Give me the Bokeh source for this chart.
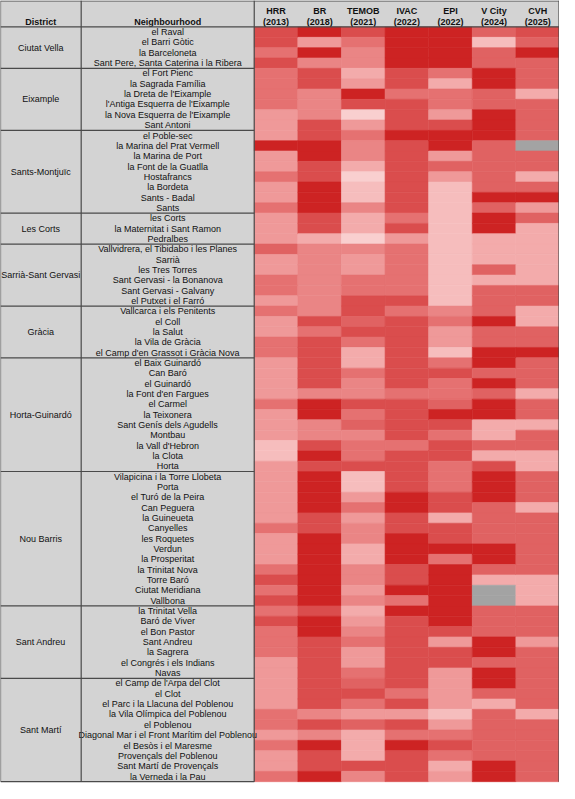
from bokeh.plotting import figure
from bokeh.models import ColumnDataSource, LinearColorMapper, Range1d
from bokeh.transform import transform
from bokeh.embed import file_html
from bokeh.resources import INLINE
from bokeh.core.properties import value

nan = float("nan")

districts = ["Ciutat Vella", "Eixample", "Sants-Montjuïc", "Les Corts", "Sarrià-Sant Gervasi",
             "Gràcia", "Horta-Guinardó", "Nou Barris", "Sant Andreu", "Sant Martí"]
district_sizes = [4, 6, 8, 3, 6, 5, 11, 13, 7, 10]

neighbourhoods = [
    "el Raval", "el Barri Gòtic", "la Barceloneta", "Sant Pere, Santa Caterina i la Ribera",
    "el Fort Pienc", "la Sagrada Família", "la Dreta de l'Eixample", "l'Antiga Esquerra de l'Eixample",
    "la Nova Esquerra de l'Eixample", "Sant Antoni",
    "el Poble-sec", "la Marina del Prat Vermell", "la Marina de Port", "la Font de la Guatlla",
    "Hostafrancs", "la Bordeta", "Sants - Badal", "Sants",
    "les Corts", "la Maternitat i Sant Ramon", "Pedralbes",
    "Vallvidrera, el Tibidabo i les Planes", "Sarrià", "les Tres Torres", "Sant Gervasi - la Bonanova",
    "Sant Gervasi - Galvany", "el Putxet i el Farró",
    "Vallcarca i els Penitents", "el Coll", "la Salut", "la Vila de Gràcia",
    "el Camp d'en Grassot i Gràcia Nova",
    "el Baix Guinardó", "Can Baró", "el Guinardó", "la Font d'en Fargues", "el Carmel", "la Teixonera",
    "Sant Genís dels Agudells", "Montbau", "la Vall d'Hebron", "la Clota", "Horta",
    "Vilapicina i la Torre Llobeta", "Porta", "el Turó de la Peira", "Can Peguera", "la Guineueta",
    "Canyelles", "les Roquetes", "Verdun", "la Prosperitat", "la Trinitat Nova", "Torre Baró",
    "Ciutat Meridiana", "Vallbona",
    "la Trinitat Vella", "Baró de Viver", "el Bon Pastor", "Sant Andreu", "la Sagrera",
    "el Congrés i els Indians", "Navas",
    "el Camp de l'Arpa del Clot", "el Clot", "el Parc i la Llacuna del Poblenou",
    "la Vila Olímpica del Poblenou", "el Poblenou", "Diagonal Mar i el Front Marítim del Poblenou",
    "el Besòs i el Maresme", "Provençals del Poblenou", "Sant Martí de Provençals", "la Verneda i la Pau",
]

indicators = ["HRR", "BR", "TEMOB", "IVAC", "EPI", "V City", "CVH"]
years = ["(2013)", "(2018)", "(2021)", "(2022)", "(2022)", "(2024)", "(2025)"]

# class levels (0.5 = lightest ... 5 = darkest), nan = no data
hrr = [4, 4, 3, 4, 3, 3, 3, 3, 2, 2,
       2, 5, 2, 2, 3, 2, 2, 3, 2, 2, 2,
       3.5, 2, 2, 3, 3, 2, 3, 2, 2, 3, 3,
       2, 2, 2, 2, 3, 2, 2, 2, 1, 1, 2,
       2, 2, 2, 2, 2, 3, 2, 2, 2, 3, 4, 3, 4,
       3, 4, 3, 3, 3, 2, 2,
       2, 2, 2, 3, 3, 2, 3, 2, 2, 3]
br = [5, 2, 5, 2.5, 4, 4, 2.5, 2.5, 2.5, 4,
      4, 5, 5, 4, 4, 5, 5, 5, 4, 4, 1.5,
      2.5, 2.5, 2.5, 2.5, 2.5, 2.5, 2.5, 4, 3, 4, 4,
      4, 4, 4, 2.5, 5, 5, 2.5, 2.5, 4, 5, 4,
      5, 5, 5, 5, 4, 4, 5, 5, 5, 5, 5, 5, 5,
      4, 5, 5, 4, 4, 4, 4,
      4, 4, 4, 2.5, 4, 2.5, 5, 4, 4, 5]
temob = [4, 3, 2.5, 2.5, 1.5, 2, 5, 4, 0.5, 2,
         3, 2.5, 2.5, 1.5, 0.5, 1, 1, 2.5, 1.5, 1.5, 0.5,
         2.5, 2, 2, 3, 3, 4, 4, 3.5, 4, 3, 1.5,
         1.5, 3, 2.5, 2.5, 4, 3, 3.5, 2.5, 3, 3, 4,
         1, 1, 2, 3, 2, 2.5, 2.5, 1.5, 1.5, 2.5, 2.5, 2, 2.5,
         1.5, 2, 2.5, 3, 2, 2, 3,
         3.5, 4, 3, 2, 3.5, 1.5, 1.5, 1.5, 4, 2.5]
ivac = [5, 5, 5, 5, 4, 4, 3, 4, 4, 4,
        5, 4, 4, 4, 4, 4, 4, 4, 3, 4, 2,
        3, 3, 3, 3, 3, 4, 3, 4, 4, 4, 4,
        4, 4, 4, 3, 4, 4, 4, 4, 3, 4, 4,
        4, 4, 5, 5, 4, 4, 5, 5, 5, 4, 4, 5, 3,
        5, 4, 4, 4, 4, 4, 4,
        4, 3, 4, 2, 4, 3, 5, 4, 4, 4]
epi = [5, 5, 5, 5, 3, 1.5, 3, 3, 2, 4,
       5, 5, 2, 3.5, 2, 1, 1, 1, 1, 1, 1,
       1, 1, 1, 1, 1, 1, 2.5, 3, 2, 2, 1,
       3, 4, 3, 3, 3.5, 5, 4, 3, 4, 4, 3,
       3, 3, 4, 4, 1.5, 4, 4, 5, 3, 5, 5, 5, 5,
       5, 5, 4, 2, 4, 4, 2,
       2, 2, 2, 1, 2, 3, 4, 3, 1.5, 2]
vcity = [3.5, 1, 3.5, 3.5, 5, 5, 3.5, 3.5, 5, 5,
         5, 3.5, 3.5, 3.5, 3.5, 3.5, 5, 3.5, 5, 5, 1.5,
         1.5, 1.5, 3.5, 1.5, 3.5, 3.5, 3.5, 5, 3.5, 3.5, 5,
         5, 3.5, 5, 3.5, 5, 5, 1.5, 1.5, 3.5, 1.5, 4,
         5, 5, 5, 3.5, 3.5, 3.5, 3.5, 5, 5, 3.5, 1.5, nan, nan,
         3.5, 3.5, 3.5, 5, 5, 3.5, 5,
         5, 3.5, 1.5, 3.5, 3.5, 3.5, 3.5, 3.5, 5, 5]
cvh = [4, 3.5, 5, 3.5, 3.5, 3.5, 1.5, 3.5, 3.5, 3.5,
       3.5, nan, 3.5, 3.5, 1.5, 3.5, 5, 2, 3.5, 1.5, 1.5,
       1.5, 1.5, 1.5, 1.5, 3.5, 3.5, 1.5, 1.5, 3.5, 3.5, 5,
       3.5, 3.5, 3.5, 1.5, 3.5, 3.5, 1.5, 3.5, 3.5, 1.5, 1.5,
       3.5, 3.5, 3.5, 1.5, 3.5, 3.5, 3.5, 3.5, 3.5, 3.5, 1.5, 1.5, 1.5,
       3.5, 3.5, 3.5, 2, 3.5, 3.5, 3.5,
       3.5, 3.5, 3.5, 1.5, 3.5, 3.5, 3.5, 3.5, 3.5, 3.5]

series = [hrr, br, temob, ivac, epi, vcity, cvh]

# ---- layout (reference pixel frame) ----
FONT = value("Liberation Sans")
X_END = 575.0
X_DIST = 83.0
X_NB = 261.0
Y_HEAD = 27.0
ROW_H = 10.55
n_rows = len(neighbourhoods)
Y_END = Y_HEAD + n_rows * ROW_H
COL_W = (X_END - X_NB) / len(indicators)
GRAY = "#d3d3d3"
LINE = "#4a4a4a"

p = figure(width=559, height=783, x_range=Range1d(0, X_END), y_range=Range1d(799, 0),
           output_backend="svg", toolbar_location=None, min_border=0,
           x_axis_type=None, y_axis_type=None)
p.grid.visible = False
p.outline_line_color = None
p.background_fill_color = "white"
p.border_fill_color = "white"

# gray backgrounds
p.quad(left=[0, 0], right=[X_END, X_NB], top=[0, Y_HEAD], bottom=[Y_HEAD, Y_END],
       fill_color=GRAY, line_color=None)

# heat cells
palette = ["#f9cfcf", "#f6bdbd", "#f3abab", "#ef9999", "#ea8585",
           "#e57171", "#e06262", "#da4d4d", "#d43838", "#cd2323"]
mapper = LinearColorMapper(palette=palette, low=0.25, high=5.25, nan_color="#a3a3a3")
xs, ys, vs = [], [], []
for j, s in enumerate(series):
    for i, v in enumerate(s):
        xs.append(X_NB + (j + 0.5) * COL_W)
        ys.append(Y_HEAD + (i + 0.5) * ROW_H)
        vs.append(v)
src = ColumnDataSource(dict(x=xs, y=ys, v=vs))
p.rect(x="x", y="y", width=COL_W, height=ROW_H, source=src,
       fill_color=transform("v", mapper), line_color=transform("v", mapper), line_width=0.6)

# neighbourhood labels
p.text(x=[(X_DIST + X_NB) / 2] * n_rows,
       y=[Y_HEAD + (i + 0.5) * ROW_H for i in range(n_rows)],
       text=neighbourhoods, text_align="center", text_baseline="middle",
       text_font=FONT, text_font_size="9px", text_color="#111111")

# district labels and separators
starts = []
acc = 0
for n in district_sizes:
    starts.append(acc)
    acc += n
p.text(x=[X_DIST / 2] * len(districts),
       y=[Y_HEAD + (s + n / 2) * ROW_H for s, n in zip(starts, district_sizes)],
       text=districts, text_align="center", text_baseline="middle",
       text_font=FONT, text_font_size="9px", text_color="#111111")
sep_y = [Y_HEAD + (s + n) * ROW_H for s, n in zip(starts, district_sizes)][:-1]
p.segment(x0=[0] * len(sep_y), x1=[X_NB] * len(sep_y), y0=sep_y, y1=sep_y,
          line_color=LINE, line_width=1.2)

# header
p.text(x=[X_DIST / 2, (X_DIST + X_NB) / 2], y=[22, 22], text=["District", "Neighbourhood"],
       text_align="center", text_baseline="middle", text_font=FONT,
       text_font_size="9px", text_font_style="bold", text_color="#111111")
hx = [X_NB + (j + 0.5) * COL_W for j in range(len(indicators))]
p.text(x=hx, y=[11] * len(hx), text=indicators, text_align="center", text_baseline="middle",
       text_font=FONT, text_font_size="9px", text_font_style="bold", text_color="#111111")
p.text(x=hx, y=[22] * len(hx), text=years, text_align="center", text_baseline="middle",
       text_font=FONT, text_font_size="9px", text_font_style="bold", text_color="#111111")

# frame lines
p.segment(x0=[0, 0, 0, 0, X_END - 0.5, X_DIST, X_NB],
          x1=[X_END, X_END, X_NB, 0, X_END - 0.5, X_DIST, X_NB],
          y0=[0.5, Y_HEAD, Y_END, 0, 0, 0, 0],
          y1=[0.5, Y_HEAD, Y_END, Y_END, Y_END, Y_END, Y_END],
          line_color=LINE, line_width=1.2)

open("out.html", "w").write(file_html(p, INLINE))
